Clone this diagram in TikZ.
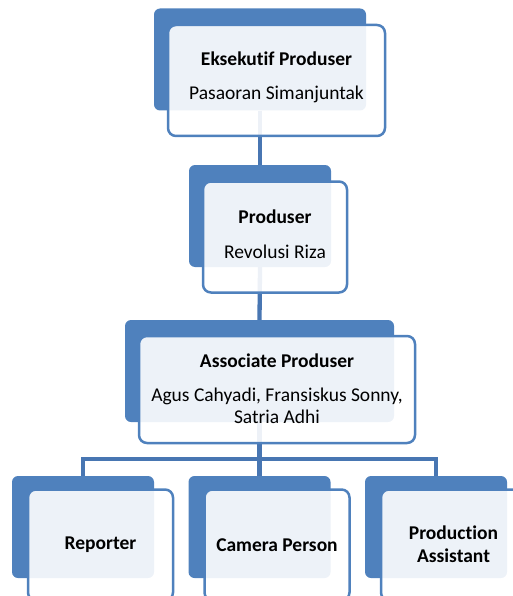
\documentclass[tikz,border=0pt]{standalone}
\usepackage{fontspec}
\setmainfont{Carlito}[Ligatures=NoCommon]
\usetikzlibrary{calc,positioning}
\definecolor{chartblue}{RGB}{79,129,189}
\definecolor{linkblue}{RGB}{72,118,178}

\begin{document}
\begin{tikzpicture}[x=1pt,y=-1pt,
  backbox/.style={fill=chartblue, rounded corners=6pt, inner sep=0pt, minimum height=102pt},
  frontbox/.style={draw=chartblue, line width=2.5pt, fill=white, fill opacity=0.9, rounded corners=8pt, inner sep=0pt, minimum height=111pt},
  link/.style={draw=linkblue, line width=4.3pt},
  boxtext/.style={align=center, font=\fontsize{19.5}{22.5}\selectfont, text=black}]
\useasboundingbox (0,0) rectangle (513,596);

% blue cards behind
\node[backbox, minimum width=212pt] (ekse) at (260,59.5) {};
\node[backbox, minimum width=142pt] (prod) at (260,216) {};
\node[backbox, minimum width=269pt] (assoc) at (259.5,371) {};
\node[backbox, minimum width=142pt] (rep) at (83,527) {};
\node[backbox, minimum width=142pt] (cam) at (259.5,527) {};
\node[backbox, minimum width=142pt] (pa) at (436,527) {};

% connectors
\draw[link] (ekse.south) -- (prod.north);
\draw[link] (prod.south) -- (assoc.north);
\coordinate (bus) at (259.5,459);
\draw[link] (assoc.south) -- (bus);
\draw[link] (rep.north) |- (bus) -| (pa.north);
\draw[link] (bus) -- (cam.north);

% white cards in front
\node[frontbox, minimum width=217pt] (eksef) at ($(ekse)+(16.5,21)$) {};
\node[frontbox, minimum width=144pt] (prodf) at ($(prod)+(15,21)$) {};
\node[frontbox, minimum width=276pt, minimum height=107pt] (assocf) at ($(assoc)+(17.5,18.5)$) {};
\node[frontbox, minimum width=145pt] (repf) at ($(rep)+(17.5,18)$) {};
\node[frontbox, minimum width=145pt] (camf) at ($(cam)+(17.5,18)$) {};
\node[frontbox, minimum width=145pt] (paf) at ($(pa)+(17.5,18)$) {};

% texts
\node[boxtext] (eksetxt) at ($(eksef)+(0,-3)$) {\textbf{Eksekutif Produser}\\[12pt]Pasaoran Simanjuntak};
\node[boxtext] (prodtxt) at ($(prodf)+(0,-3)$) {\textbf{Produser}\\[12pt]Revolusi Riza};
\node[boxtext] (assoctxt) at ($(assocf)+(0,-1)$) {\textbf{Associate Produser}\\[12pt]Agus Cahyadi, Fransiskus Sonny,\\[-1pt]Satria Adhi};
\node[boxtext] (reptxt) at ($(repf)+(0,0)$) {\textbf{Reporter}};
\node[boxtext] (camtxt) at ($(camf)+(0,0)$) {\textbf{Camera Person}};
\node[boxtext] (patxt) at ($(paf)+(0,-1)$) {\textbf{Production}\\\textbf{Assistant}};

\end{tikzpicture}
\end{document}
